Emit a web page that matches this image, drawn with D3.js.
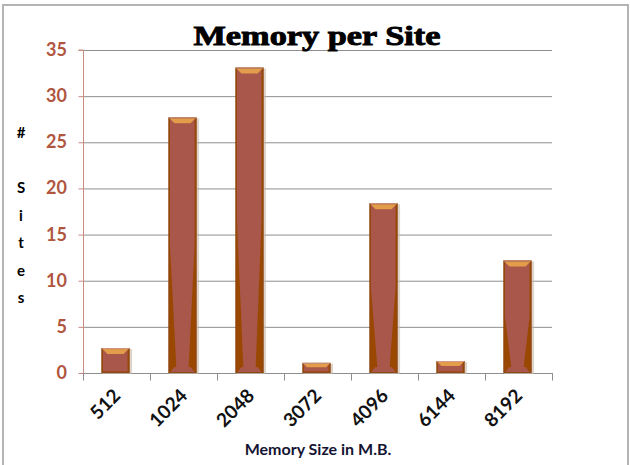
<!DOCTYPE html>
<html>
<head>
<meta charset="utf-8">
<script src="https://cdn.jsdelivr.net/npm/d3@7"></script>
<style>
  body { margin: 0; background: #fff; }
  svg { display: block; }
</style>
</head>
<body>
<svg id="chart" width="630" height="465"></svg>
<script>
// data
var categories = ["512", "1024", "2048", "3072", "4096", "6144", "8192"];
var sites = [2.7, 27.7, 33.1, 1.1, 18.4, 1.3, 12.2];
var yTicks = [0, 5, 10, 15, 20, 25, 30, 35];
var yTitle = ["#", "", "S", "i", "t", "e", "s"];

var svg = d3.select("#chart");
var pLeft = 83, pRight = 552, pTop = 50, pBottom = 373;

// outer frame
svg.append("rect").attr("x", 3).attr("y", 5).attr("width", 625).attr("height", 470)
  .style("fill", "none").style("stroke", "#b4b4b4").style("stroke-width", 2);

var xScale = d3.scaleBand().domain(categories).range([pLeft, pRight]);
var yScale = d3.scaleLinear().domain([0, 35]).range([pBottom, pTop]);

// gridlines
svg.append("g").selectAll("line")
  .data(yTicks.filter(function(t) { return t > 0; })).enter()
  .append("line")
  .attr("x1", pLeft).attr("x2", pRight)
  .attr("y1", function(d) { return yScale(d) + 0.5; })
  .attr("y2", function(d) { return yScale(d) + 0.5; })
  .style("stroke", "#8e8e8e").style("stroke-width", 1);

// x axis
var xAxis = d3.axisBottom(xScale).tickSize(7).tickFormat("");
var gx = svg.append("g").attr("id", "xAxisG")
  .attr("transform", "translate(0," + (pBottom + 0.5) + ")").call(xAxis);
gx.selectAll(".tick").attr("transform", function(d) { return "translate(" + (xScale(d) + 0.5) + ",0)"; });
gx.append("line").attr("x1", pRight + 0.5).attr("x2", pRight + 0.5).attr("y1", 0).attr("y2", 7);
gx.select("path.domain").remove();
gx.append("line").attr("x1", pLeft).attr("x2", pRight + 1).attr("y1", 0).attr("y2", 0);
gx.selectAll("line").style("stroke", "#8e8e8e");

// x tick labels, rotated
svg.append("g").selectAll("text")
  .data(categories).enter()
  .append("text")
  .attr("transform", function(d) {
    return "translate(" + (xScale(d) + xScale.bandwidth() / 2 + 5) + "," + (pBottom + 24) + ") rotate(-45)";
  })
  .attr("text-anchor", "end")
  .attr("font-family", "Lato, sans-serif")
  .attr("font-weight", "bold")
  .attr("font-size", "19px")
  .attr("fill", "#111")
  .text(function(d) { return d; });

// y axis
var yAxis = d3.axisLeft(yScale).tickValues(yTicks).tickSize(5).tickFormat("");
var gy = svg.append("g").attr("id", "yAxisG")
  .attr("transform", "translate(" + (pLeft + 0.5) + ",0)").call(yAxis);
gy.select("path.domain").attr("d", "M-5," + pTop + "H0V" + pBottom)
  .style("fill", "none").style("stroke", "#c98a80");
gy.selectAll("line").style("stroke", "#c98a80");

svg.append("g").selectAll("text")
  .data(yTicks).enter()
  .append("text")
  .attr("x", 67)
  .attr("y", function(d) { return yScale(d) + 6; })
  .attr("text-anchor", "end")
  .attr("font-family", "Lato, sans-serif")
  .attr("font-weight", "bold")
  .attr("font-size", "18px")
  .attr("fill", "#b0563f")
  .text(function(d) { return d; });

// bars
var barG = svg.append("g");
categories.forEach(function(c, i) {
  var w = xScale.bandwidth() * 0.42;
  var x0 = xScale(c) + (xScale.bandwidth() - w) / 2 - 1;
  var y0 = yScale(sites[i]), y1 = yScale(0);
  var h = y1 - y0;
  var g = barG.append("g");
  // shadow
  g.append("rect").attr("x", x0 + 1).attr("y", y0 + 1).attr("width", w + 1.5).attr("height", h)
    .style("fill", "#c9b7a8").style("opacity", 0.6);
  // dark base
  g.append("rect").attr("x", x0).attr("y", y0).attr("width", w).attr("height", h)
    .style("fill", "#9a4700");
  // light body narrowing toward the bottom
  var bev = Math.min(5, h / 3);
  var mid = y0 + h * 0.5;
  var inner;
  if (h > 40) {
    inner = [[x0 + 1.5, y0 + 1], [x0 + w - 2, y0 + 1], [x0 + w - 2, mid],
             [x0 + w * 0.72, y1 - bev - 1], [x0 + w * 0.28, y1 - bev - 1], [x0 + 1.5, mid]];
  } else {
    inner = [[x0 + 1.5, y0 + 1], [x0 + w - 2, y0 + 1], [x0 + w - 2, y1 - 1.5], [x0 + 1.5, y1 - 1.5]];
  }
  g.append("polygon").attr("points", inner.map(function(p) { return p.join(","); }).join(" "))
    .style("fill", "#a9574a");
  // bottom bevel
  if (h > 40) {
    g.append("polygon")
      .attr("points", [[x0 + 2, y1 - 1], [x0 + w - 2, y1 - 1], [x0 + w - 6, y1 - 6], [x0 + 6, y1 - 6]]
        .map(function(p) { return p.join(","); }).join(" "))
      .style("fill", "#a9574a");
  }
  // top bevel
  g.append("polygon")
    .attr("points", [[x0 + 1, y0 + 1], [x0 + w - 1, y0 + 1], [x0 + w - 1 - bev, y0 + 1 + bev], [x0 + 1 + bev, y0 + 1 + bev]]
      .map(function(p) { return p.join(","); }).join(" "))
    .style("fill", "#e39c4a");
  // outline
  g.append("rect").attr("x", x0 + 0.5).attr("y", y0 + 0.5).attr("width", w - 1).attr("height", h - 1)
    .style("fill", "none").style("stroke", "#8a4a20").style("stroke-width", 1).style("opacity", 0.7);
  g.append("line").attr("x1", x0 + 0.5).attr("x2", x0 + w - 0.5).attr("y1", y0 + 0.5).attr("y2", y0 + 0.5)
    .style("stroke", "#d39a86");
});

// title
svg.append("text")
  .attr("x", 317).attr("y", 45)
  .attr("text-anchor", "middle")
  .attr("font-family", "'Liberation Serif', 'DejaVu Serif', serif")
  .attr("font-weight", "bold")
  .attr("font-size", "27px")
  .attr("textLength", 247)
  .attr("lengthAdjust", "spacingAndGlyphs")
  .attr("fill", "#000")
  .attr("stroke", "#000")
  .attr("stroke-width", 0.9)
  .text("Memory per Site");

// x axis title
svg.append("text")
  .attr("x", 318).attr("y", 455)
  .attr("text-anchor", "middle")
  .attr("font-family", "Lato, sans-serif")
  .attr("font-weight", "bold")
  .attr("font-size", "16px")
  .attr("fill", "#141432")
  .text("Memory Size in M.B.");

// y axis title, stacked letters
svg.append("g").selectAll("text")
  .data(yTitle).enter()
  .append("text")
  .attr("x", 21)
  .attr("y", function(d, i) { return 138 + i * 27.5; })
  .attr("text-anchor", "middle")
  .attr("font-family", "Lato, sans-serif")
  .attr("font-weight", "bold")
  .attr("font-size", "15px")
  .attr("fill", "#000")
  .text(function(d) { return d; });
</script>
</body>
</html>
